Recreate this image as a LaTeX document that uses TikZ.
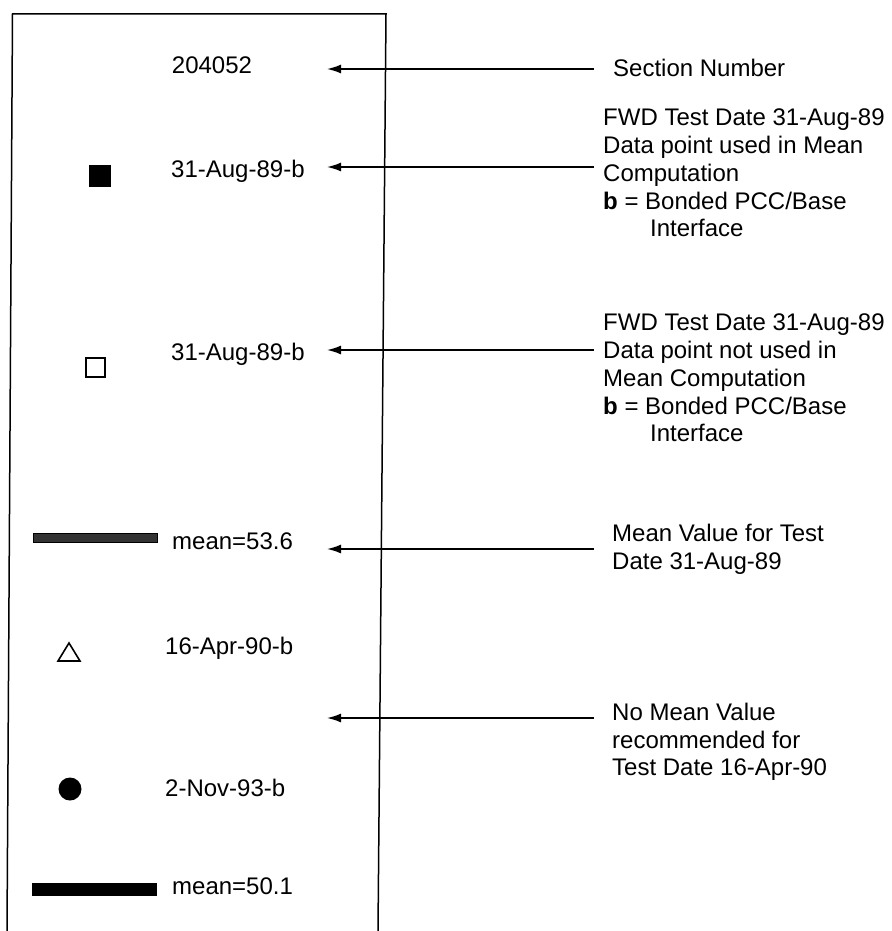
\documentclass[tikz,border=0pt]{standalone}
\usepackage{fontspec}
\setmainfont{Liberation Sans}
\usetikzlibrary{arrows.meta}
\begin{document}
\begin{tikzpicture}[x=1pt,y=-1pt,
  txt/.style={font=\fontsize{24}{27.7}\selectfont, inner sep=0pt, anchor=base west},
  blk/.style={font=\fontsize{24}{27.7}\selectfont, inner sep=0pt, anchor=north west, align=left},
  ptr/.style={line width=1.6pt, -{Latex[length=14pt,width=9pt]}},
  frame/.style={line width=1.5pt},
  symb/.style={inner sep=0pt, line width=1.6pt}]
\useasboundingbox (0,0) rectangle (891,931);
% frame (open at the bottom)
\coordinate (bl) at (7,931);
\coordinate (tl) at (12.5,14);
\coordinate (tr) at (386,14);
\coordinate (br) at (378,931);
\draw[frame] (bl) -- (tl) -- (tr) -- (br);

% row 1
\node[txt, anchor=base] (sec) at (212,74) {204052};
\node[txt] (secT) at (613,77) {Section Number};
\coordinate (a1s) at (594,69); \coordinate (a1t) at (327,69);
\draw[ptr] (a1s) -- (a1t);

% row 2
\node[symb, draw, fill=black, minimum size=21pt] (m1) at (100,176) {};
\node[txt] (l1) at (171,177) {31-Aug-89-b};
\node[blk] (b1) at (603,109) {FWD Test Date 31-Aug-89\\Data point used in Mean\\Computation\\\textbf{b} = Bonded PCC/Base\\\hspace*{47pt}Interface};
\coordinate (a2s) at (594,167); \coordinate (a2t) at (327,167);
\draw[ptr] (a2s) -- (a2t);

% row 3
\node[symb, draw, minimum size=19pt] (m2) at (95.5,367.5) {};
\node[txt] (l2) at (171,360) {31-Aug-89-b};
\node[blk] (b2) at (603,314) {FWD Test Date 31-Aug-89\\Data point not used in\\Mean Computation\\\textbf{b} = Bonded PCC/Base\\\hspace*{47pt}Interface};
\coordinate (a3s) at (594,350); \coordinate (a3t) at (327,350);
\draw[ptr] (a3s) -- (a3t);

% row 4
\node[inner sep=0pt, draw=black, line width=0.6pt, fill=black!80, minimum width=124pt, minimum height=9pt] (bar1) at (95.5,537.5) {};
\node[txt] (l3) at (172,549) {mean=53.6};
\node[blk] (b3) at (612,524) {Mean Value for Test\\Date 31-Aug-89};
\coordinate (a4s) at (594,549); \coordinate (a4t) at (327,549);
\draw[ptr] (a4s) -- (a4t);

% row 5
\coordinate (t1) at (58,661); \coordinate (t2) at (80,661); \coordinate (t3) at (69,643);
\draw[line width=1.6pt, line join=miter] (t1) -- (t2) -- (t3) -- cycle;
\node[txt] (l4) at (165,654) {16-Apr-90-b};

% row 6
\node[blk] (b4) at (612,703) {No Mean Value\\recommended for\\Test Date 16-Apr-90};
\coordinate (a5s) at (594,718); \coordinate (a5t) at (327,718);
\draw[ptr] (a5s) -- (a5t);

% row 7
\node[symb, circle, fill=black, minimum size=23pt] (m4) at (70,789) {};
\node[txt] (l5) at (165,796) {2-Nov-93-b};

% row 8
\node[inner sep=0pt, fill=black, minimum width=125pt, minimum height=13pt] (bar2) at (94.5,889) {};
\node[txt] (l6) at (172,894) {mean=50.1};
\end{tikzpicture}
\end{document}
